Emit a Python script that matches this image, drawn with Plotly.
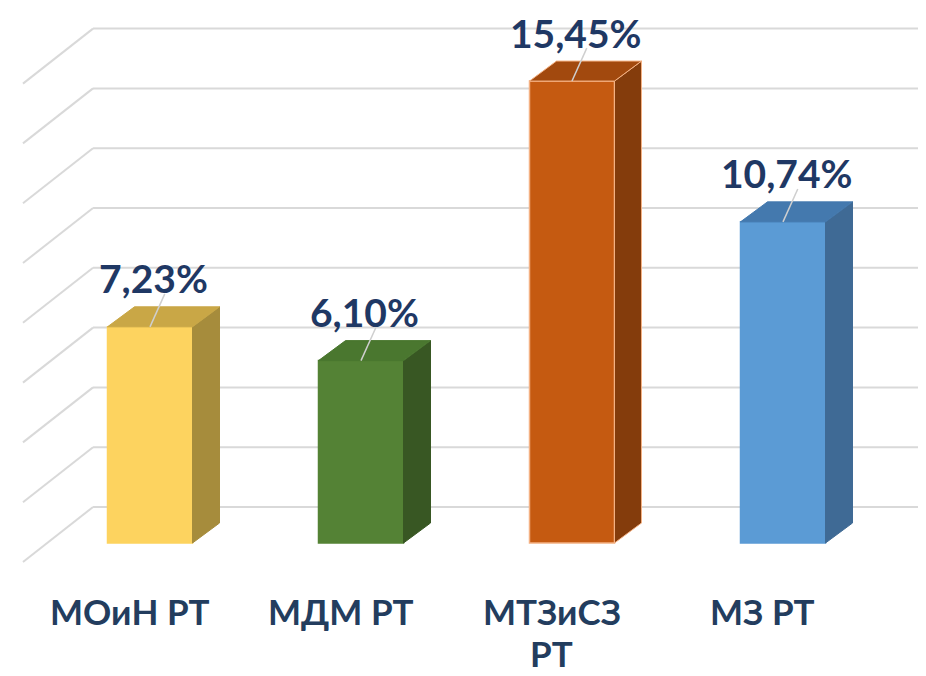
import plotly.graph_objects as go

categories = ["МОиН РТ", "МДМ РТ", "МТЗиСЗ<br>РТ", "МЗ РТ"]
values = [7.23, 6.10, 15.45, 10.74]
grid_values = [0, 2, 4, 6, 8, 10, 12, 14, 16]

front_colors = ["#FDD35F", "#548235", "#C55A11", "#5B9BD5"]
top_colors = ["#C9A746", "#4A772F", "#A2490E", "#4479AE"]
side_colors = ["#A68C3C", "#385723", "#843C0C", "#3F6A95"]
edge_colors = ["#FDD35F", "#548235", "#F4B183", "#5B9BD5"]

PAGE = 8           # page body margin
FIG_W, FIG_H = 918, 668
PX = 29.9          # pixels per value unit
CAT = 211.0        # pixels per category
W = 85 / CAT       # bar front width in category units
DX = 27 / CAT      # depth offset x
DY = 20 / PX       # depth offset y
BACK_DY = 36 / PX  # back wall offset
BACK_X = -0.270
FRONT_X = -0.602
FRONT_DY = -19 / PX

X0 = -(150 - PAGE) / CAT
YMAX = (543 - PAGE) / PX

fig = go.Figure()

shapes = []
for g in grid_values:
    yb = g + BACK_DY
    shapes.append(dict(type="line", xref="x", yref="y", x0=BACK_X, x1=4.0,
                       y0=yb, y1=yb, line=dict(color="#D9D9D9", width=2), layer="below"))
    shapes.append(dict(type="line", xref="x", yref="y", x0=BACK_X, x1=FRONT_X,
                       y0=yb, y1=g + FRONT_DY, line=dict(color="#D9D9D9", width=2), layer="below"))

xs = list(range(len(values)))
fig.add_trace(go.Bar(x=xs, y=values, width=W,
                     marker=dict(color=front_colors, line=dict(color=edge_colors, width=1.5)),
                     hoverinfo="skip", showlegend=False))

for i, v in enumerate(values):
    l, r = i - W / 2, i + W / 2
    fig.add_trace(go.Scatter(x=[r, r + DX, r + DX, r, r], y=[0, DY, v + DY, v, 0],
                             mode="lines", fill="toself", fillcolor=side_colors[i],
                             line=dict(color=edge_colors[i] if i == 2 else side_colors[i], width=1),
                             hoverinfo="skip", showlegend=False))
    fig.add_trace(go.Scatter(x=[l, l + DX, r + DX, r, l], y=[v, v + DY, v + DY, v, v],
                             mode="lines", fill="toself", fillcolor=top_colors[i],
                             line=dict(color=edge_colors[i] if i == 2 else top_colors[i], width=1),
                             hoverinfo="skip", showlegend=False))
    fig.add_trace(go.Scatter(x=[i + 0.0, i + 0.07], y=[v, v + 1.1], mode="lines",
                             line=dict(color="#CFCFCF", width=1.5),
                             hoverinfo="skip", showlegend=False))

annotations = []
for i, v in enumerate(values):
    txt = f"{v:.2f}".replace(".", ",") + "%"
    annotations.append(dict(x=i + 0.017, y=v + 1.62, xref="x", yref="y", text=f"<b>{txt}</b>",
                            showarrow=False, xanchor="center", yanchor="middle",
                            font=dict(family="Lato", size=39, color="#1F3864")))
for i, c in enumerate(categories):
    for k, line in enumerate(c.split("<br>")):
        annotations.append(dict(x=i - 0.095, y=(-68 - 42 * k) / PX, xref="x", yref="y",
                                text=f"<b>{line}</b>",
                                showarrow=False, xanchor="center", yanchor="middle",
                                font=dict(family="Lato", size=35, color="#233D5E")))

fig.update_layout(
    width=FIG_W, height=FIG_H,
    margin=dict(l=0, r=0, t=0, b=0),
    paper_bgcolor="white", plot_bgcolor="white",
    xaxis=dict(range=[X0, X0 + FIG_W / CAT], visible=False, fixedrange=True),
    yaxis=dict(range=[YMAX - FIG_H / PX, YMAX], visible=False, fixedrange=True),
    shapes=shapes, annotations=annotations, showlegend=False,
    font=dict(family="Lato"),
)

fig.write_html("out.html")
